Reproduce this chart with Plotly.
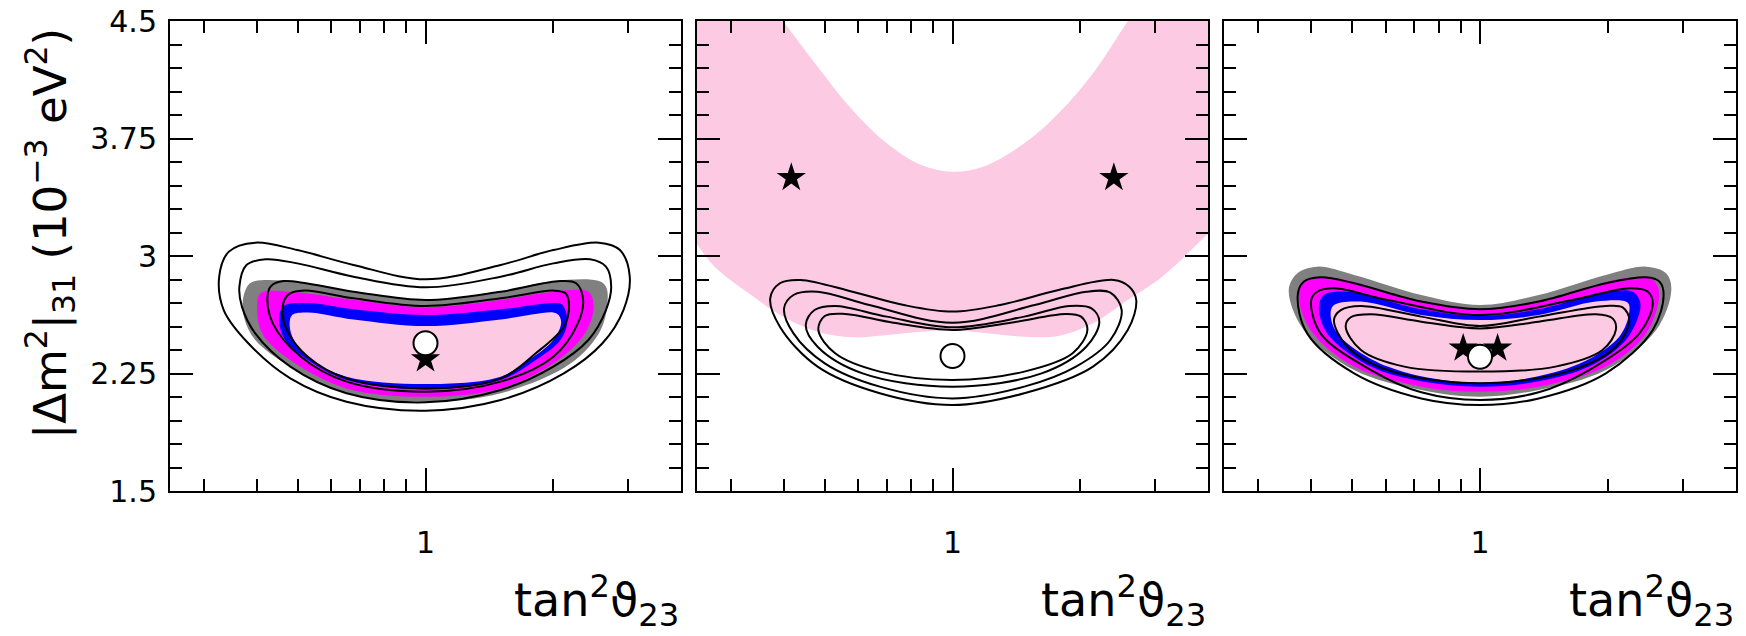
import math
import plotly.graph_objects as go

W, H = 1746, 636

# ---- axes ----
X_RANGE = [0.25, 4.0]
Y_RANGE = [1.5, 4.5]
X_MAJOR = [1]
X_MAJOR_TEXT = ["1"]
X_MINOR = [0.3, 0.4, 0.5, 0.6, 0.7, 0.8, 0.9, 2, 3]
Y_MAJOR = [1.5, 2.25, 3.0, 3.75, 4.5]
Y_MAJOR_TEXT = ["1.5", "2.25", "3", "3.75", "4.5"]
Y_MINOR = [1.65, 1.8, 1.95, 2.1, 2.4, 2.55, 2.7, 2.85, 3.15, 3.3, 3.45,
           3.6, 3.9, 4.05, 4.2, 4.35]

# ---- colours ----
GRAY = "#808080"
MAGENTA = "#ff00ff"
BLUE = "#0000ff"
PINK = "#fdcae3"

# ---- left panel: allowed regions (tan^2, |dm^2_31|) ----
P1_GRAY = [(1.0, 2.722), (1.504, 2.775), (2.001, 2.840), (2.563, 2.840), (2.662, 2.804),
           (2.687, 2.719), (2.587, 2.528), (2.200, 2.315), (1.504, 2.124), (1.0, 2.070),
           (0.6514, 2.124), (0.4803, 2.294), (0.3970, 2.464), (0.3751, 2.591), (0.3713, 2.719),
           (0.3823, 2.815), (0.3970, 2.840), (0.4989, 2.836), (0.6766, 2.775)]
P1_MAGENTA = [(1.0, 2.672), (1.504, 2.720), (2.001, 2.772), (2.420, 2.772), (2.490, 2.677),
              (2.374, 2.506), (2.001, 2.315), (1.504, 2.155), (1.0, 2.102), (0.6514, 2.155),
              (0.4803, 2.336), (0.4124, 2.506), (0.4010, 2.677), (0.4086, 2.762), (0.4803, 2.772),
              (0.6766, 2.720)]
P1_BLUE = [(1.0, 2.623), (1.504, 2.660), (2.001, 2.700), (2.099, 2.690), (2.159, 2.581),
           (2.079, 2.464), (1.819, 2.336), (1.504, 2.209), (1.0, 2.150), (0.6514, 2.209),
           (0.528, 2.336), (0.4667, 2.464), (0.4519, 2.591), (0.4624, 2.680), (0.528, 2.700),
           (0.6766, 2.660)]
P1_PINK = [(1.0, 2.553), (1.504, 2.595), (2.001, 2.640), (2.059, 2.623), (2.087, 2.570),
           (2.001, 2.464), (1.751, 2.336), (1.504, 2.230), (1.0, 2.183), (0.6514, 2.230),
           (0.538, 2.336), (0.4896, 2.464), (0.4785, 2.560), (0.485, 2.623), (0.528, 2.640),
           (0.6766, 2.595)]
P1_LINES = [
    [(1.0, 2.851), (1.504, 2.943), (2.001, 3.038), (2.563, 3.085), (2.872, 3.038),
     (3.029, 2.868), (2.927, 2.655), (2.612, 2.443), (2.118, 2.251), (1.504, 2.081),
     (1.0, 2.013), (0.6514, 2.070), (0.4803, 2.219), (0.3823, 2.443), (0.3346, 2.655),
     (0.3265, 2.868), (0.3441, 3.028), (0.3970, 3.085), (0.4989, 3.038), (0.6766, 2.943)],
    [(1.0, 2.800), (1.504, 2.868), (2.001, 2.953), (2.443, 2.979), (2.662, 2.932),
     (2.739, 2.804), (2.662, 2.655), (2.420, 2.464), (2.001, 2.294), (1.504, 2.145),
     (1.0, 2.066), (0.6514, 2.124), (0.4803, 2.294), (0.3970, 2.506), (0.3693, 2.677),
     (0.3643, 2.804), (0.3786, 2.943), (0.4202, 2.979), (0.4989, 2.953), (0.6766, 2.868)],
    [(1.0, 2.719), (1.504, 2.772), (2.079, 2.840), (2.265, 2.826), (2.352, 2.719),
     (2.286, 2.570), (2.001, 2.357), (1.504, 2.198), (1.0, 2.134), (0.6514, 2.198),
     (0.5084, 2.357), (0.4367, 2.570), (0.4243, 2.740), (0.4325, 2.808), (0.4624, 2.840),
     (0.6766, 2.772)],
    [(1.0, 2.681), (1.504, 2.730), (2.001, 2.779), (2.138, 2.762), (2.179, 2.677),
     (2.118, 2.549), (1.819, 2.379), (1.504, 2.219), (1.0, 2.155), (0.6514, 2.219),
     (0.528, 2.357), (0.4713, 2.528), (0.4606, 2.677), (0.4756, 2.755), (0.5183, 2.779),
     (0.6766, 2.730)],
]
P1_BEST = (1.0, 2.443)
P1_STARS = [(1.0, 2.342)]

# ---- middle panel ----
P2_BAND = [(0.20, 4.80), (0.33, 4.80), (0.399, 4.50), (0.481, 4.208), (0.581, 3.932),
           (0.700, 3.719), (0.843, 3.581), (1.0, 3.538), (1.18, 3.570), (1.476, 3.719),
           (1.778, 3.911), (2.143, 4.166), (2.588, 4.50), (3.06, 4.80), (5.0, 4.80),
           (5.0, 3.39), (4.01, 3.145), (3.119, 2.868), (2.588, 2.719), (2.143, 2.570),
           (1.778, 2.489), (1.476, 2.485), (1.22, 2.506), (1.0, 2.528), (0.843, 2.517),
           (0.700, 2.496), (0.581, 2.481), (0.481, 2.517), (0.399, 2.613), (0.331, 2.762),
           (0.275, 2.932), (0.249, 3.081), (0.20, 3.42)]
P2_LINES = [
    [(1.0, 2.645), (1.295, 2.687), (1.778, 2.783), (2.40, 2.847), (2.61, 2.804),
     (2.71, 2.719), (2.588, 2.528), (2.143, 2.294), (1.476, 2.124), (1.0, 2.049),
     (0.674, 2.124), (0.481, 2.294), (0.392, 2.549), (0.372, 2.730), (0.392, 2.826),
     (0.4385, 2.847), (0.581, 2.772), (0.768, 2.687)],
    [(1.0, 2.574), (1.562, 2.687), (2.066, 2.772), (2.355, 2.766), (2.504, 2.655),
     (2.355, 2.464), (1.954, 2.294), (1.476, 2.166), (1.0, 2.091), (0.674, 2.166),
     (0.500, 2.315), (0.422, 2.506), (0.401, 2.666), (0.422, 2.751), (0.481, 2.772),
     (0.637, 2.687)],
    [(1.0, 2.545), (1.476, 2.613), (1.883, 2.681), (2.126, 2.666), (2.218, 2.581),
     (2.066, 2.421), (1.622, 2.251), (1.0, 2.166), (0.614, 2.251), (0.481, 2.421),
     (0.451, 2.560), (0.473, 2.655), (0.529, 2.681), (0.700, 2.613)],
    [(1.0, 2.528), (1.371, 2.574), (1.848, 2.630), (2.010, 2.613), (2.079, 2.528),
     (1.919, 2.379), (1.476, 2.262), (1.0, 2.209), (0.674, 2.262), (0.529, 2.379),
     (0.483, 2.528), (0.500, 2.617), (0.559, 2.630), (0.726, 2.574)],
]
P2_BEST = (1.0, 2.362)
P2_STARS = [(0.417, 3.50), (2.40, 3.50)]

# ---- right panel ----
P3_GRAY = [(1.0, 2.687), (1.374, 2.751), (1.977, 2.879), (2.458, 2.932), (2.742, 2.889),
           (2.818, 2.783), (2.596, 2.528), (1.977, 2.272), (1.374, 2.145), (1.0, 2.102),
           (0.7276, 2.145), (0.5058, 2.272), (0.385, 2.528), (0.355, 2.783), (0.3715, 2.889),
           (0.414, 2.932), (0.5058, 2.879), (0.7276, 2.751)]
P3_MAGENTA = [(1.0, 2.660), (1.374, 2.709), (2.165, 2.857), (2.526, 2.857), (2.620, 2.804),
              (2.634, 2.719), (2.458, 2.506), (1.977, 2.294), (1.374, 2.166), (1.0, 2.134),
              (0.7276, 2.166), (0.5058, 2.294), (0.3995, 2.528), (0.3747, 2.762), (0.3922, 2.847),
              (0.4619, 2.857), (0.7276, 2.709)]
P3_BLUE = [(1.0, 2.617), (1.374, 2.660), (1.977, 2.772), (2.286, 2.772), (2.371, 2.719),
           (2.38, 2.655), (2.204, 2.464), (1.805, 2.294), (1.374, 2.200), (1.0, 2.166),
           (0.7276, 2.200), (0.554, 2.294), (0.4372, 2.506), (0.418, 2.677), (0.4295, 2.751),
           (0.4877, 2.772), (0.7276, 2.660)]
P3_PINK = [(1.0, 2.591), (1.374, 2.623), (1.872, 2.709), (2.225, 2.702), (2.245, 2.645),
           (2.126, 2.485), (1.648, 2.294), (1.0, 2.191), (0.6066, 2.294), (0.4619, 2.506),
           (0.4453, 2.634), (0.4535, 2.687), (0.5248, 2.709), (0.7276, 2.623)]
P3_LINES = [
    [(1.0, 2.660), (1.374, 2.709), (1.977, 2.826), (2.458, 2.864), (2.644, 2.836),
     (2.703, 2.751), (2.549, 2.528), (1.977, 2.251), (1.374, 2.091), (1.0, 2.049),
     (0.7276, 2.091), (0.5058, 2.251), (0.3922, 2.506), (0.3727, 2.751), (0.385, 2.836),
     (0.4217, 2.864), (0.5058, 2.826), (0.7276, 2.709)],
    [(1.0, 2.623), (1.648, 2.719), (2.245, 2.794), (2.481, 2.772), (2.549, 2.698),
     (2.371, 2.506), (1.805, 2.272), (1.374, 2.130), (1.0, 2.081), (0.7276, 2.130),
     (0.554, 2.272), (0.4217, 2.506), (0.4009, 2.719), (0.414, 2.772), (0.4535, 2.794),
     (0.6066, 2.719)],
    [(1.0, 2.553), (1.374, 2.613), (1.977, 2.681), (2.165, 2.672), (2.245, 2.591),
     (2.087, 2.421), (1.648, 2.272), (1.0, 2.187), (0.6066, 2.272), (0.4877, 2.421),
     (0.4535, 2.591), (0.4706, 2.655), (0.5248, 2.681), (0.7276, 2.613)],
    [(1.0, 2.538), (1.374, 2.581), (1.872, 2.628), (2.050, 2.602), (2.087, 2.528),
     (1.941, 2.400), (1.505, 2.294), (1.0, 2.262), (0.664, 2.294), (0.5248, 2.400),
     (0.4832, 2.549), (0.4966, 2.609), (0.554, 2.628), (0.7276, 2.581)],
]
P3_BEST = (1.0, 2.357)
P3_STARS = [(0.913, 2.411), (1.10, 2.411)]

# ---- frame geometry (pixels) ----
PANEL_X = [(170, 681), (697, 1208), (1224, 1736)]
PANEL_Y = (21, 491)

FONT = "DejaVu Sans"


def closed(points):
    pts = list(points) + [points[0]]
    return [p[0] for p in pts], [p[1] for p in pts]


fig = go.Figure()


def add_fill(points, color, ax):
    xs, ys = closed(points)
    fig.add_trace(go.Scatter(x=xs, y=ys, mode="lines", fill="toself", fillcolor=color,
                             line=dict(width=0, shape="spline", smoothing=1.0),
                             hoverinfo="skip", showlegend=False, xaxis=ax[0], yaxis=ax[1]))


def add_line(points, ax):
    xs, ys = closed(points)
    fig.add_trace(go.Scatter(x=xs, y=ys, mode="lines",
                             line=dict(width=2, color="black", shape="spline", smoothing=1.0),
                             hoverinfo="skip", showlegend=False, xaxis=ax[0], yaxis=ax[1]))


def add_stars(points, ax):
    fig.add_trace(go.Scatter(x=[p[0] for p in points], y=[p[1] for p in points], mode="markers",
                             marker=dict(symbol="star", size=22, color="black", line=dict(width=0)),
                             hoverinfo="skip", showlegend=False, xaxis=ax[0], yaxis=ax[1]))


def add_best(point, ax):
    fig.add_trace(go.Scatter(x=[point[0]], y=[point[1]], mode="markers",
                             marker=dict(symbol="circle", size=24, color="white",
                                         line=dict(width=2, color="black")),
                             hoverinfo="skip", showlegend=False, xaxis=ax[0], yaxis=ax[1]))


AX = [("x", "y"), ("x2", "y2"), ("x3", "y3")]

# left panel
for pts, col in [(P1_GRAY, GRAY), (P1_MAGENTA, MAGENTA), (P1_BLUE, BLUE), (P1_PINK, PINK)]:
    add_fill(pts, col, AX[0])
for pts in P1_LINES:
    add_line(pts, AX[0])
add_stars(P1_STARS, AX[0])
add_best(P1_BEST, AX[0])

# middle panel
add_fill(P2_BAND, PINK, AX[1])
for pts in P2_LINES:
    add_line(pts, AX[1])
add_best(P2_BEST, AX[1])
add_stars(P2_STARS, AX[1])

# right panel
for pts, col in [(P3_GRAY, GRAY), (P3_MAGENTA, MAGENTA), (P3_BLUE, BLUE), (P3_PINK, PINK)]:
    add_fill(pts, col, AX[2])
for pts in P3_LINES:
    add_line(pts, AX[2])
add_stars(P3_STARS, AX[2])
add_best(P3_BEST, AX[2])


def xaxis_cfg(i):
    x0, x1 = PANEL_X[i]
    return dict(domain=[x0 / W, x1 / W], anchor=AX[i][1], type="log",
                range=[math.log10(X_RANGE[0]), math.log10(X_RANGE[1])],
                showline=True, linecolor="black", linewidth=2, mirror="ticks",
                showgrid=False, zeroline=False, automargin=False,
                tickmode="array", tickvals=X_MAJOR, ticktext=X_MAJOR_TEXT,
                ticks="inside", ticklen=23, tickwidth=1.5, tickcolor="black",
                ticklabelstandoff=24,
                tickfont=dict(family=FONT, size=30, color="black"),
                minor=dict(tickmode="array", tickvals=X_MINOR, ticks="inside", ticklen=12,
                           tickwidth=1.5, tickcolor="black", showgrid=False),
                fixedrange=True)


def yaxis_cfg(i):
    y0, y1 = PANEL_Y
    return dict(domain=[1 - y1 / H, 1 - y0 / H], anchor=AX[i][0], range=Y_RANGE,
                showline=True, linecolor="black", linewidth=2, mirror="ticks",
                showgrid=False, zeroline=False, automargin=False,
                tickmode="array", tickvals=Y_MAJOR, ticktext=Y_MAJOR_TEXT,
                showticklabels=(i == 0),
                ticks="inside", ticklen=23, tickwidth=1.5, tickcolor="black",
                ticklabelstandoff=5,
                tickfont=dict(family=FONT, size=30, color="black"),
                minor=dict(tickmode="array", tickvals=Y_MINOR, ticks="inside", ticklen=12,
                           tickwidth=1.5, tickcolor="black", showgrid=False),
                fixedrange=True)


layout = dict(width=W, height=H,
              margin=dict(l=0, r=0, t=0, b=0, pad=0, autoexpand=False),
              paper_bgcolor="white", plot_bgcolor="white", showlegend=False)
for i in range(3):
    sx = "" if i == 0 else str(i + 1)
    layout["xaxis" + sx] = xaxis_cfg(i)
    layout["yaxis" + sx] = yaxis_cfg(i)

annotations = [dict(text="|Δm<sup>2</sup>|<sub>31</sub> (10<sup>−3</sup> eV<sup>2</sup>)",
                    xref="paper", yref="paper", x=50 / W, y=1 - 234 / H,
                    xanchor="center", yanchor="middle", textangle=-90, showarrow=False,
                    font=dict(family=FONT, size=45, color="black"))]
for x0, x1 in PANEL_X:
    annotations.append(dict(text="tan<sup>2</sup>ϑ<sub>23</sub>", xref="paper", yref="paper",
                            x=x1 / W, y=0, xanchor="right", yanchor="bottom",
                            showarrow=False, font=dict(family=FONT, size=46, color="black")))
layout["annotations"] = annotations

fig.update_layout(**layout)
fig.write_html("out.html")
